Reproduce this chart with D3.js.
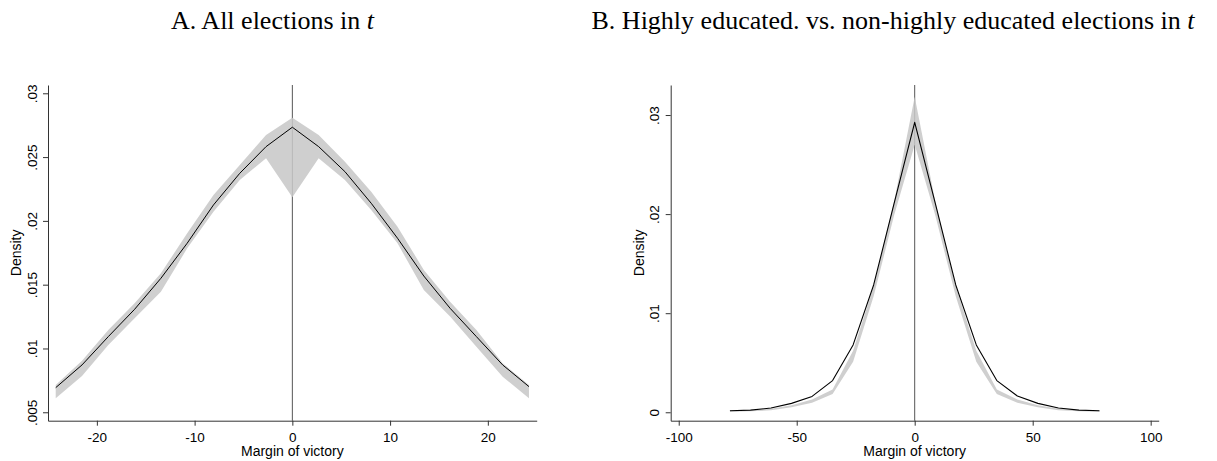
<!DOCTYPE html>
<html>
<head>
<meta charset="utf-8">
<script src="https://cdn.jsdelivr.net/npm/d3@7/dist/d3.min.js"></script>
<style>
  html, body { margin: 0; padding: 0; background: #fff; }
  svg { display: block; }
</style>
</head>
<body>
<svg id="chart" width="1217" height="461"></svg>
<script>
// ---------------- Data ----------------
// Panel A: all elections (margin grid, density and CI band)
const marginA = [-24.21, -21.52, -18.83, -16.14, -13.45, -10.76, -8.07, -5.38, -2.69, 0,
                 2.69, 5.38, 8.07, 10.76, 13.45, 16.14, 18.83, 21.52, 24.21];
const densityA = [0.00693, 0.00871, 0.01093, 0.01307, 0.01550, 0.01825, 0.02125, 0.02373, 0.02582, 0.02734,
                  0.02582, 0.02386, 0.02138, 0.01864, 0.01568, 0.01315, 0.01093, 0.00871, 0.00701];
const upperA = [0.00714, 0.00904, 0.01145, 0.01354, 0.01589, 0.01903, 0.02203, 0.02438, 0.02673, 0.02809,
                0.02673, 0.02464, 0.02229, 0.01955, 0.01615, 0.01367, 0.01145, 0.00884, 0.00714];
const lowerA = [0.00610, 0.00785, 0.01027, 0.01237, 0.01445, 0.01785, 0.02072, 0.02321, 0.02490, 0.02185,
                0.02490, 0.02321, 0.02086, 0.01825, 0.01458, 0.01250, 0.01014, 0.00779, 0.00610];

// Panel B: highly educated vs non-highly educated
const marginB = [-78.3, -69.6, -60.9, -52.2, -43.5, -34.8, -26.1, -17.4, -8.7, 0,
                 8.7, 17.4, 26.1, 34.8, 43.5, 52.2, 60.9, 69.6, 78.3];
const densityB = [0.00016, 0.00022, 0.00043, 0.00090, 0.00160, 0.00320, 0.00680, 0.01285, 0.02110, 0.02926,
                  0.02110, 0.01285, 0.00680, 0.00320, 0.00164, 0.00090, 0.00043, 0.00022, 0.00016];
const upperB = [0.00015, 0.00020, 0.00035, 0.00070, 0.00130, 0.00230, 0.00620, 0.01270, 0.02130, 0.03185,
                0.02130, 0.01270, 0.00620, 0.00230, 0.00130, 0.00070, 0.00035, 0.00020, 0.00015];
const lowerB = [0.00005, 0.00010, 0.00020, 0.00050, 0.00095, 0.00185, 0.00510, 0.01170, 0.01990, 0.02700,
                0.01990, 0.01170, 0.00510, 0.00185, 0.00095, 0.00050, 0.00020, 0.00010, 0.00005];

// Ticks
const xTicksA = [-20, -10, 0, 10, 20];
const xTickLabelsA = ["-20", "-10", "0", "10", "20"];
const yTicksA = [0.005, 0.01, 0.015, 0.02, 0.025, 0.03];
const yTickLabelsA = [".005", ".01", ".015", ".02", ".025", ".03"];
const xTicksB = [-100, -50, 0, 50, 100];
const xTickLabelsB = ["-100", "-50", "0", "50", "100"];
const yTicksB = [0, 0.01, 0.02, 0.03];
const yTickLabelsB = ["0", ".01", ".02", ".03"];

const titleA = "A. All elections in ";
const titleB = "B. Highly educated. vs. non-highly educated elections in ";
const titleVar = "t";
const xTitle = "Margin of victory";
const yTitle = "Density";

// ---------------- Drawing ----------------
const svg = d3.select("#chart");
svg.append("rect").attr("width", 1217).attr("height", 461).attr("fill", "#fff");

const sans = "'Liberation Sans', Arial, Helvetica, sans-serif";
const serif = "'Liberation Serif', 'Times New Roman', Times, serif";

function panel(cfg) {
  const x = d3.scaleLinear().domain(cfg.xDomain).range([cfg.left, cfg.right]);
  const y = d3.scaleLinear().domain(cfg.yDomain).range([cfg.bottom, cfg.top]);
  const g = svg.append("g");

  // zero reference line
  g.append("line")
    .attr("x1", x(0)).attr("x2", x(0))
    .attr("y1", cfg.top).attr("y2", cfg.bottom)
    .attr("stroke", "#555").attr("stroke-width", 1);

  const rows = cfg.xs.map((m, i) => ({ m, d: cfg.dens[i], lo: cfg.lo[i], hi: cfg.hi[i] }));

  g.append("path")
    .datum(rows)
    .attr("d", d3.area().x(r => x(r.m)).y0(r => y(r.lo)).y1(r => y(r.hi)))
    .attr("fill", "rgb(199,199,199)")
    .attr("fill-opacity", 0.86)
    .attr("stroke", "none");

  g.append("path")
    .datum(rows)
    .attr("d", d3.line().x(r => x(r.m)).y(r => y(r.d)))
    .attr("fill", "none")
    .attr("stroke", "#000")
    .attr("stroke-width", cfg.lw)
    .attr("stroke-linejoin", "round");

  // x axis
  const xa = g.append("g")
    .attr("transform", `translate(0,${cfg.bottom})`)
    .call(d3.axisBottom(x).tickValues(cfg.xTicks)
      .tickFormat((d, i) => cfg.xLabels[i]).tickSize(5).tickSizeOuter(0));
  xa.select(".domain").attr("stroke", "#333");
  xa.selectAll(".tick line").attr("stroke", "#333");
  xa.selectAll(".tick text")
    .attr("y", 21).attr("dy", 0)
    .attr("font-family", sans).attr("font-size", 13.5).attr("fill", "#000");

  // y axis
  const ya = g.append("g")
    .attr("transform", `translate(${cfg.left},0)`)
    .call(d3.axisLeft(y).tickValues(cfg.yTicks)
      .tickFormat((d, i) => cfg.yLabels[i]).tickSize(5).tickSizeOuter(0));
  ya.select(".domain").attr("stroke", "#333");
  ya.selectAll(".tick line").attr("stroke", "#333");
  ya.selectAll(".tick text")
    .attr("x", 0).attr("dy", 0)
    .attr("text-anchor", "middle")
    .attr("transform", "translate(-11.3,0) rotate(-90)")
    .attr("font-family", sans).attr("font-size", 13.5).attr("fill", "#000");

  // axis titles
  g.append("text")
    .attr("x", (cfg.left + cfg.right) / 2).attr("y", 456)
    .attr("text-anchor", "middle")
    .attr("font-family", sans).attr("font-size", 14)
    .text(xTitle);
  g.append("text")
    .attr("transform", `translate(${cfg.left - 27},${(cfg.top + cfg.bottom) / 2}) rotate(-90)`)
    .attr("text-anchor", "middle")
    .attr("font-family", sans).attr("font-size", 14)
    .text(yTitle);

  // panel title
  const t = svg.append("text")
    .attr("x", cfg.titleX).attr("y", 29)
    .attr("text-anchor", "middle")
    .attr("font-family", serif).attr("font-size", 26)
    .attr("fill", "#000");
  t.append("tspan").text(cfg.title);
  t.append("tspan").attr("font-style", "italic").text(titleVar);
}

panel({
  left: 48, right: 536.7, top: 85, bottom: 420.7,
  xDomain: [-25, 25], yDomain: [0.00434, 0.03065],
  xs: marginA, dens: densityA, lo: lowerA, hi: upperA, lw: 1,
  xTicks: xTicksA, xLabels: xTickLabelsA, yTicks: yTicksA, yLabels: yTickLabelsA,
  title: titleA, titleX: 272.5
});

panel({
  left: 670.7, right: 1158.7, top: 85, bottom: 420.7,
  xDomain: [-103.4, 103.4], yDomain: [-0.00085, 0.03303],
  xs: marginB, dens: densityB, lo: lowerB, hi: upperB, lw: 1.1,
  xTicks: xTicksB, xLabels: xTickLabelsB, yTicks: yTicksB, yLabels: yTickLabelsB,
  title: titleB, titleX: 893
});
</script>
</body>
</html>
